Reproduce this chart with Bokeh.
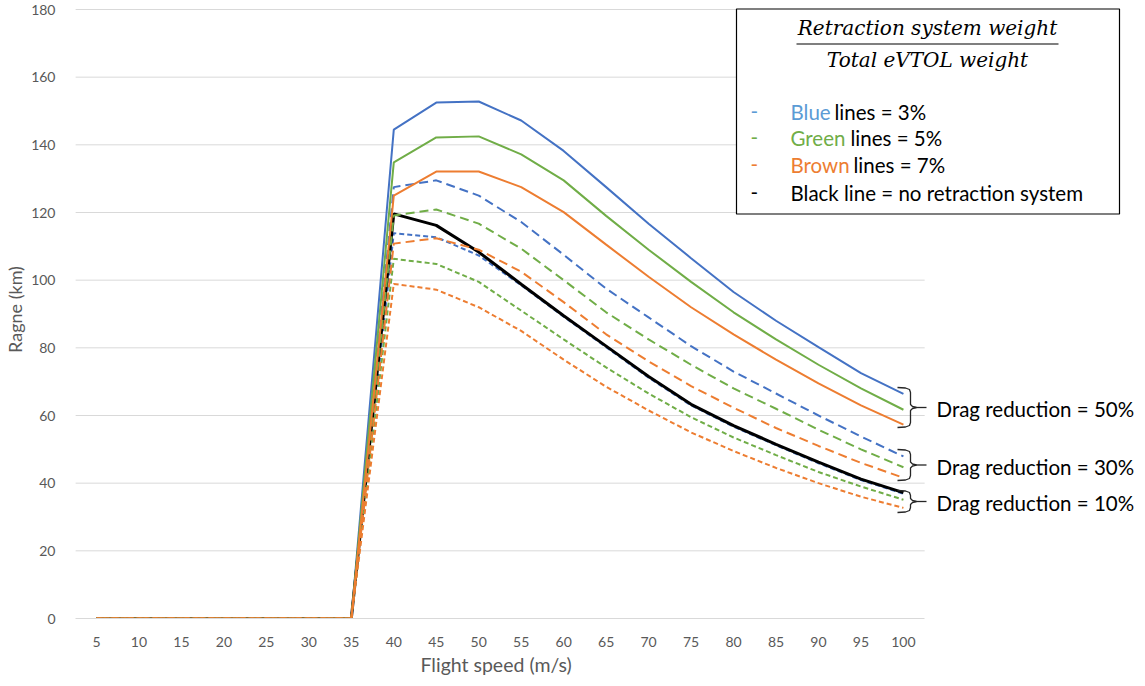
from bokeh.plotting import figure
from bokeh.models import Range1d, FixedTicker, Title
from bokeh.core.properties import value
from bokeh.embed import file_html
from bokeh.resources import INLINE

# ---------------- data ----------------
speed = [5, 10, 15, 20, 25, 30, 35, 40, 45, 50, 55, 60, 65, 70, 75, 80, 85, 90, 95, 100]
y_ticks = [0, 20, 40, 60, 80, 100, 120, 140, 160, 180]

# 3 % retraction-system weight
blue_50 = [0, 0, 0, 0, 0, 0, 0, 144.5, 152.5, 152.8, 147.2, 138.2, 127.5, 116.7, 106.5, 96.5, 88.0, 80.2, 72.5, 66.4]
blue_30 = [0, 0, 0, 0, 0, 0, 0, 127.5, 129.5, 125.0, 117.2, 107.5, 97.5, 89.0, 80.5, 73.0, 66.5, 60.0, 53.8, 47.9]
blue_10 = [0, 0, 0, 0, 0, 0, 0, 113.9, 112.7, 107.3, 98.5, 89.2, 80.2, 71.2, 63.0, 56.7, 51.2, 45.9, 40.9, 36.9]
# 5 %
green_50 = [0, 0, 0, 0, 0, 0, 0, 134.8, 142.2, 142.5, 137.2, 129.5, 119.0, 109.0, 99.5, 90.5, 82.5, 75.0, 68.0, 61.7]
green_30 = [0, 0, 0, 0, 0, 0, 0, 119.1, 120.9, 116.7, 109.3, 100.0, 90.5, 82.5, 75.0, 68.0, 62.0, 55.8, 50.0, 44.7]
green_10 = [0, 0, 0, 0, 0, 0, 0, 106.3, 104.8, 99.5, 91.0, 82.5, 74.2, 66.5, 59.5, 53.5, 48.3, 43.3, 39.0, 35.1]
# 7 %
orange_50 = [0, 0, 0, 0, 0, 0, 0, 125.0, 132.1, 132.1, 127.5, 120.1, 110.5, 101.0, 92.0, 84.0, 76.5, 69.5, 63.0, 57.3]
orange_30 = [0, 0, 0, 0, 0, 0, 0, 110.8, 112.4, 109.0, 102.5, 93.5, 84.0, 76.0, 68.7, 62.3, 56.3, 51.0, 46.0, 41.6]
orange_10 = [0, 0, 0, 0, 0, 0, 0, 98.9, 97.2, 92.0, 85.0, 76.5, 68.5, 61.5, 55.0, 49.5, 44.5, 40.0, 36.0, 32.7]
# no retraction system
black = [0, 0, 0, 0, 0, 0, 0, 119.6, 116.2, 108.3, 98.8, 89.5, 80.5, 71.5, 63.3, 57.0, 51.5, 46.2, 41.2, 37.2]

legend_words = ["Blue", "Green", "Brown"]
legend_rest = ["lines = 3%", "lines = 5%", "lines = 7%"]
black_text = "Black line = no retraction system"
drag_texts = ["Drag reduction = 50%", "Drag reduction = 30%", "Drag reduction = 10%"]
x_title = "Flight speed (m/s)"
y_title = "Ragne (km)"
frac_top = "Retraction system weight"
frac_bottom = "Total eVTOL weight"

BLUE, GREEN, ORANGE = "#4472C4", "#70AD47", "#ED7D31"
BLUE_T, GREEN_T, ORANGE_T = "#5B9BD5", "#70AD47", "#ED7D31"
GRID = "#D9D9D9"
AXIS_TXT = "#595959"
FONT = value("Lato")
TXT_SIZE = "20.5px"

# ---------------- layout geometry (canvas pixels) ----------------
W, H = 1140, 682
LEFT = 75
FRAME_BOTTOM = 618
BOTTOM = H - FRAME_BOTTOM
FRAME_W = W - LEFT
FRAME_H = FRAME_BOTTOM
X_PPU = 42.47 / 5
XSTART = 5 - (96 - LEFT) / X_PPU
XEND = XSTART + FRAME_W / X_PPU
Y_PPU = (618 - 9) / 180.0
YEND = FRAME_H / Y_PPU


def X(px):
    return XSTART + (px - LEFT) / X_PPU


def Y(py):
    return (FRAME_BOTTOM - py) / Y_PPU


p = figure(width=W, height=H, output_backend="svg", toolbar_location=None,
           x_range=Range1d(XSTART, XEND), y_range=Range1d(0, YEND),
           min_border_left=LEFT, min_border_right=0, min_border_top=0,
           min_border_bottom=BOTTOM)
p.outline_line_color = None
p.xgrid.visible = False
p.ygrid.visible = False
p.background_fill_color = "white"
p.border_fill_color = "white"

half = (speed[1] - speed[0]) / 2
x_lo, x_hi = speed[0] - half, speed[-1] + half

# grid lines (only over the plot area)
gy = y_ticks[1:]
p.segment(x0=[x_lo] * len(gy), x1=[x_hi] * len(gy), y0=gy, y1=gy,
          line_color=GRID, line_width=1)

# axes
p.xaxis.ticker = FixedTicker(ticks=speed)
p.xaxis.bounds = (x_lo, x_hi)
p.xaxis.axis_line_color = GRID
p.xaxis.major_tick_line_color = None
p.xaxis.minor_tick_line_color = None
p.xaxis.major_label_text_font = "Lato"
p.xaxis.major_label_text_font_size = "14px"
p.xaxis.major_label_text_color = AXIS_TXT
p.xaxis.major_label_standoff = 12

# x-axis title, centred under the plot area (not the whole frame)
p.add_layout(Title(text=x_title, align="left", offset=420 - LEFT, standoff=2,
                   text_font="Lato", text_font_size="19.5px", text_font_style="normal",
                   text_color=AXIS_TXT), "below")

p.yaxis.ticker = FixedTicker(ticks=y_ticks)
p.yaxis.axis_line_color = None
p.yaxis.major_tick_line_color = None
p.yaxis.minor_tick_line_color = None
p.yaxis.major_label_text_font = "Lato"
p.yaxis.major_label_text_font_size = "14px"
p.yaxis.major_label_text_color = AXIS_TXT
p.yaxis.major_label_standoff = 14
p.yaxis.axis_label = y_title
p.yaxis.axis_label_text_font = "Lato"
p.yaxis.axis_label_text_font_size = "18px"
p.yaxis.axis_label_text_font_style = "normal"
p.yaxis.axis_label_text_color = AXIS_TXT
p.yaxis.axis_label_standoff = 2

# series
LONG, SHORT = "9 5", "5 3"
p.line(speed, blue_50, line_color=BLUE, line_width=2)
p.line(speed, blue_30, line_color=BLUE, line_width=2, line_dash=LONG)
p.line(speed, blue_10, line_color=BLUE, line_width=2, line_dash=SHORT)
p.line(speed, black, line_color="black", line_width=3)
p.line(speed, green_50, line_color=GREEN, line_width=2)
p.line(speed, green_30, line_color=GREEN, line_width=2, line_dash=LONG)
p.line(speed, green_10, line_color=GREEN, line_width=2, line_dash=SHORT)
p.line(speed, orange_50, line_color=ORANGE, line_width=2)
p.line(speed, orange_30, line_color=ORANGE, line_width=2, line_dash=LONG)
p.line(speed, orange_10, line_color=ORANGE, line_width=2, line_dash=SHORT)

# braces + drag reduction labels
BR = "#262626"
braces = [(387, 427), (449, 480), (490, 512)]
for (top, bot), txt in zip(braces, drag_texts):
    mid = (top + bot) / 2
    xs_px = [897, 905, 909, 910, 910, 912, 916, 912, 910, 910, 909, 905, 897]
    ys_px = [top, top + 0.5, top + 2, top + 5, mid - 3, mid - 1, mid, mid + 1, mid + 3,
             bot - 5, bot - 2, bot - 0.5, bot]
    p.line([X(v) for v in xs_px], [Y(v) for v in ys_px], line_color=BR, line_width=1.3)
    p.line([X(914), X(926)], [Y(mid), Y(mid)], line_color=BR, line_width=1.3)
    p.text([X(936)], [Y(mid + 1.5)], text=[txt], text_font=FONT, text_font_size=TXT_SIZE,
           text_color="black", text_baseline="middle", text_align="left")

# legend box
p.quad(left=[X(736)], right=[X(1119)], top=[Y(8.5)], bottom=[Y(213.5)],
       fill_color="white", line_color="black", line_width=1.2)
SERIF = value("DejaVu Serif")
p.text([X(927)], [Y(27)], text=[frac_top], text_font=SERIF, text_font_style="italic",
       text_font_size="20px", text_color="black", text_align="center", text_baseline="middle")
p.line([X(796), X(1058)], [Y(43.5), Y(43.5)], line_color="black", line_width=1.2)
p.text([X(927)], [Y(59)], text=[frac_bottom], text_font=SERIF, text_font_style="italic",
       text_font_size="20px", text_color="black", text_align="center", text_baseline="middle")

rows_y = [111, 137, 164, 192]
word_cols = [BLUE_T, GREEN_T, ORANGE_T]
rest_x = [834, 850, 853]
for i in range(3):
    p.text([X(750)], [Y(rows_y[i])], text=["-"], text_font=FONT, text_font_size=TXT_SIZE,
           text_color=word_cols[i], text_baseline="middle")
    p.text([X(790)], [Y(rows_y[i])], text=[legend_words[i]], text_font=FONT,
           text_font_size=TXT_SIZE, text_color=word_cols[i], text_baseline="middle")
    p.text([X(rest_x[i])], [Y(rows_y[i])], text=[legend_rest[i]], text_font=FONT,
           text_font_size=TXT_SIZE, text_color="black", text_baseline="middle")
p.text([X(750)], [Y(rows_y[3])], text=["-"], text_font=FONT, text_font_size=TXT_SIZE,
       text_color="black", text_baseline="middle")
p.text([X(790)], [Y(rows_y[3])], text=[black_text], text_font=FONT, text_font_size=TXT_SIZE,
       text_color="black", text_baseline="middle")

open("out.html", "w").write(file_html(p, INLINE))
